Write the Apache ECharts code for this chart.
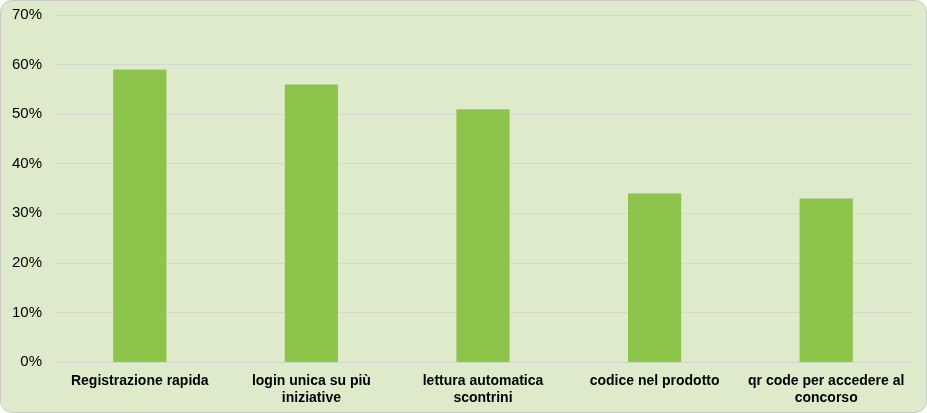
<!DOCTYPE html>
<html><head><meta charset="utf-8">
<script src="https://cdn.jsdelivr.net/npm/echarts@6/dist/echarts.min.js"></script>
<style>
html,body{margin:0;padding:0;background:#fff;}
#wrap{position:absolute;left:0;top:0;width:925px;height:411px;border:1px solid #c9cbc4;border-radius:12px;background:#deebca;overflow:hidden;}
#c{width:925px;height:411px;}
</style></head><body>
<div id="wrap"><div id="c"></div></div>
<script>
const categories = ["Registrazione rapida", "login unica su più\niniziative", "lettura automatica\nscontrini", "codice nel prodotto", "qr code per accedere al\nconcorso"];
const values = [0.59, 0.56, 0.51, 0.34, 0.33];
const chart = echarts.init(document.getElementById('c'));
chart.setOption({
  animation: false,
  grid: {left: 53, right: 14, top: 14, bottom: 50},
  xAxis: {
    type: 'category', data: categories,
    axisLine: {lineStyle: {color: '#d4d6d0', width: 1}},
    axisTick: {show: false},
    axisLabel: {color: '#000', fontFamily: 'Liberation Sans, Arial', fontWeight: 'bold', fontSize: 14, lineHeight: 17, margin: 11, interval: 0}
  },
  yAxis: {
    type: 'value', min: 0, max: 0.7, interval: 0.1,
    axisLine: {show: false}, axisTick: {show: false},
    splitLine: {lineStyle: {color: '#d4d6d0', width: 1}},
    axisLabel: {color: '#000', fontFamily: 'Liberation Sans, Arial', fontSize: 15, margin: 12,
      formatter: v => Math.round(v * 100) + '%'}
  },
  series: [{
    type: 'bar', data: values, barWidth: '31%',
    itemStyle: {color: '#8dc44b'}
  }]
});
</script></body></html>
